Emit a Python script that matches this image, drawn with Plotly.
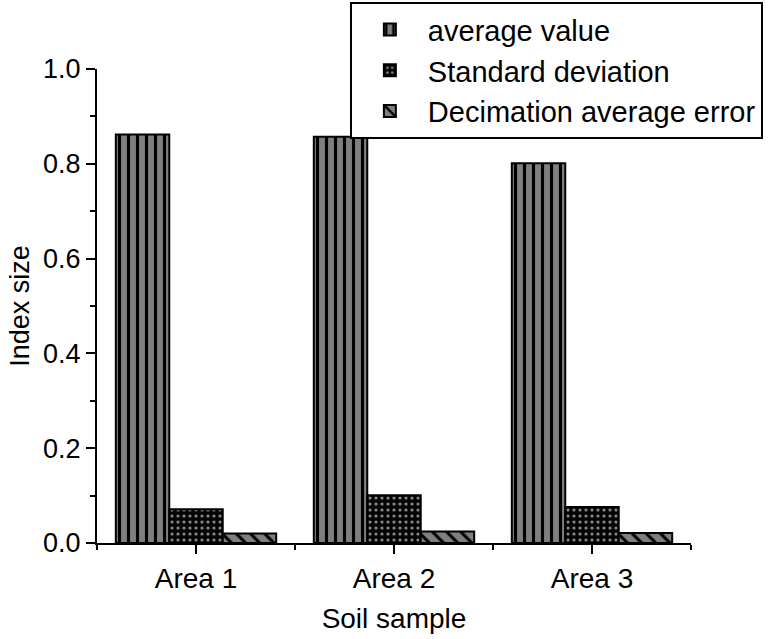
import plotly.graph_objects as go

categories = ["Area 1", "Area 2", "Area 3"]
series_names = ["average value", "Standard deviation", "Decimation average error"]
avg_values = [0.862, 0.857, 0.801]
std_values = [0.071, 0.101, 0.076]
dec_values = [0.020, 0.024, 0.021]
y_ticks = [0.0, 0.2, 0.4, 0.6, 0.8, 1.0]
y_tick_labels = ["0.0", "0.2", "0.4", "0.6", "0.8", "1.0"]

xpos = list(range(len(categories)))
FONT = "Liberation Sans, Arial, Helvetica, sans-serif"

patterns = [
    dict(shape="|", fgcolor="#000000", bgcolor="#7f7f7f", size=9, solidity=0.35),
    dict(shape=".", fgcolor="#8a8a8a", bgcolor="#050505", size=6, solidity=0.22),
    dict(shape="\\", fgcolor="#000000", bgcolor="#7f7f7f", size=10, solidity=0.3),
]
values = [avg_values, std_values, dec_values]

fig = go.Figure()
for name, vals, pat in zip(series_names, values, patterns):
    fig.add_trace(go.Bar(
        x=xpos, y=vals, name=name,
        marker=dict(color=pat["bgcolor"], pattern=dict(fillmode="replace", **pat),
                    line=dict(color="#000000", width=2)),
    ))

fig.update_layout(
    width=770, height=639,
    margin=dict(l=97, r=79, t=69, b=96, autoexpand=False),
    paper_bgcolor="white", plot_bgcolor="white",
    barmode="group", bargap=0.19, bargroupgap=0,
    font=dict(family=FONT, size=27, color="#000000"),
    showlegend=True,
    legend=dict(
        x=1.121, y=1.141, xanchor="right", yanchor="top",
        bgcolor="white", bordercolor="#000000", borderwidth=2,
        font=dict(family=FONT, size=29, color="#000000"),
        tracegroupgap=0, itemwidth=66,
    ),
    xaxis=dict(
        range=[-0.5, 2.5], tickmode="array", tickvals=xpos, ticktext=categories,
        showline=True, linecolor="#000000", linewidth=2,
        ticks="outside", ticklen=9, tickwidth=2, tickcolor="#000000",
        minor=dict(tickvals=[-0.5, 0.5, 1.5, 2.5], ticks="outside", ticklen=5,
                   tickwidth=2, tickcolor="#000000"),
        showgrid=False, zeroline=False, automargin=False,
        title=dict(text="Soil sample", font=dict(size=28), standoff=16),
        tickfont=dict(size=28),
    ),
    yaxis=dict(
        range=[0, 1.0], tickmode="array", tickvals=y_ticks, ticktext=y_tick_labels,
        showline=True, linecolor="#000000", linewidth=2,
        ticks="outside", ticklen=9, tickwidth=2, tickcolor="#000000",
        minor=dict(dtick=0.1, ticks="outside", ticklen=5, tickwidth=2, tickcolor="#000000"),
        showgrid=False, zeroline=False, automargin=False,
        title=dict(text="Index size", font=dict(size=27), standoff=6),
        tickfont=dict(size=27),
    ),
)

fig.write_html("out.html", config={"displayModeBar": False},
               post_script="document.body.style.margin='0px';")
